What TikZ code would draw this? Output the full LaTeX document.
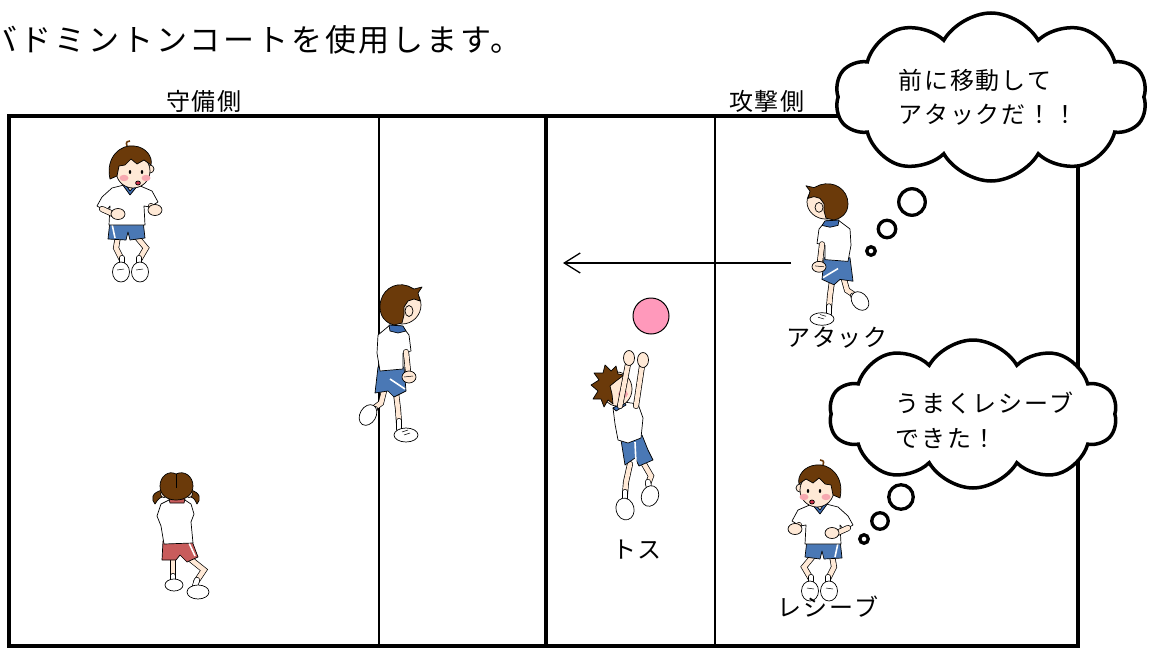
\documentclass[tikz,border=0pt]{standalone}
\usepackage{fontspec}
\setmainfont{Noto Sans CJK JP}
\usetikzlibrary{arrows.meta,shapes.symbols,shapes.geometric}

\definecolor{hair}{HTML}{6B3A0A}
\definecolor{skin}{HTML}{FFE9D6}
\definecolor{cheek}{HTML}{F7A8B0}
\definecolor{shorts}{HTML}{4A78B5}
\definecolor{collar}{HTML}{3D6CB0}
\definecolor{redshorts}{HTML}{C85C5C}
\definecolor{ballpink}{HTML}{FF99BB}
\definecolor{mouth}{HTML}{D0304A}

\tikzset{
  ol/.style={draw=black, line width=0.7pt, line join=round},
  limb/.style={double=skin, double distance=4.6pt, line width=0.7pt, line cap=round},
  sockl/.style={double=white, double distance=4.6pt, line width=0.7pt, line cap=round},
  courtline/.style={line width=3.6pt},
  thinline/.style={line width=1.2pt},
  thought/.style={cloud, cloud puffs=10, cloud puff arc=120, cloud ignores aspect,
    draw, line width=3.5pt, fill=white, inner sep=0pt},
  bubble/.style={circle, draw, line width=3.3pt, fill=white, inner sep=0pt},
  lbl/.style={font=\fontsize{24}{28}\selectfont\addfontfeatures{LetterSpace=8}, inner sep=0pt},
  % boy seen from the front, turned slightly to the right
  boyfront/.pic={
    \draw[limb] (-12,70) -- (-14,82) -- (-8,94);
    \draw[limb] (6,70) -- (16,82) -- (9,94);
    \draw[sockl] (-8,92) -- (-8,99);
    \draw[sockl] (9,92) -- (9,99);
    \filldraw[fill=white, ol] (-9,106) ellipse (8.5 and 10);
    \filldraw[fill=white, ol] (10,106) ellipse (8.5 and 10);
    \draw[line width=0.5pt] (-13,104) -- (-6,103) (6,104) -- (13,103);
    \filldraw[fill=shorts, ol] (-20,55) -- (13,55) -- (15,72) -- (0,74) -- (-2,66) -- (-4,74) -- (-22,73) -- cycle;
    \draw[white, line width=1.6pt] (-18,58) -- (-15,72);
    \filldraw[fill=white, ol] (-6,19) -- (-18,22) -- (-28,31) -- (-33,40) -- (-24,45) -- (-20,40) -- (-21,59) -- (15,59) -- (14,40) -- (20,41) -- (28,36) -- (22,25) -- (8,19) -- cycle;
    \filldraw[fill=skin, ol] (-5,14) -- (6,14) -- (5,21) -- (0,27) -- (-5,21) -- cycle;
    \filldraw[fill=collar, ol] (-8,18) -- (0,29) -- (9,18) -- (5,19) -- (0,25) -- (-4,19) -- cycle;
    \draw[limb] (-28,43) -- (-17,48);
    \filldraw[fill=skin, ol] (-12,48) ellipse (7 and 5.5);
    \draw[limb] (21,40) -- (23,42);
    \filldraw[fill=skin, ol] (25,44) ellipse (7 and 5.5);
    \filldraw[fill=skin, ol] (20,3) circle (4);
    \filldraw[fill=skin, ol] (3,5) circle (17);
    \filldraw[fill=hair, ol] (-20,13) .. controls (-25,-10) and (-8,-22) .. (4,-20)
      .. controls (16,-19) and (23,-9) .. (21,-1) -- (14,-6) -- (7,-2) -- (1,-7)
      -- (-5,-1) -- (-11,0) -- (-13,10) -- cycle;
    \draw[hair, line width=1.6pt] (-3,-20) .. controls (-4,-24) .. (0,-25);
    \fill (0,6) ellipse (1.2 and 2);
    \fill (12,6) ellipse (1.2 and 2);
    \fill[cheek] (-6,12) ellipse (4.5 and 3.2);
    \fill[cheek] (16,12) ellipse (4.5 and 3.2);
    \filldraw[fill=mouth, ol] (8,17) ellipse (2.4 and 2);
  },
  % boy seen from behind, one leg kicked back
  boyback/.pic={
    \draw[limb] (-16,86) -- (-19,98) -- (-27,104);
    \draw[sockl] (-25,104) -- (-30,106);
    \filldraw[fill=white, ol, rotate around={-30:(-32,110)}] (-32,110) ellipse (8 and 11);
    \draw[limb] (-4,88) -- (-2,104) -- (-1,118);
    \draw[sockl] (-1,116) -- (-1,124);
    \filldraw[fill=white, ol] (6,130) ellipse (12 and 7);
    \draw[line width=0.5pt] (2,127) -- (8,125) (4,130) -- (10,128);
    \filldraw[fill=shorts, ol] (-22,62) -- (4,62) -- (6,86) -- (-6,92) -- (-12,86) -- (-25,88) -- cycle;
    \draw[white, line width=1.6pt] (-10,74) -- (5,84);
    \filldraw[fill=white, ol] (-10,20) -- (2,21) -- (9,30) -- (11,46) -- (3,48) -- (3,64) -- (-20,66) -- (-23,48) -- (-22,30) -- cycle;
    \filldraw[fill=collar, ol] (-11,20) -- (3,21) -- (6,26) -- (-2,28) -- (-10,26) -- cycle;
    \draw[limb] (6,47) -- (8,66);
    \filldraw[fill=skin, ol] (9,72) ellipse (7 and 6);
    \draw[line width=0.5pt] (4,72) -- (13,71);
    \filldraw[fill=skin, ol] (2,0) circle (19);
    \filldraw[fill=hair, ol] (8,-19) .. controls (-6,-24) and (-20,-14) .. (-20,2)
      .. controls (-20,12) and (-14,18) .. (-6,20) -- (2,18) -- (4,10) -- (4,2)
      -- (8,-4) -- (14,-6) -- (20,-4) -- (18,-12) -- (22,-18) -- (14,-16) -- cycle;
    \filldraw[fill=skin, ol] (9,6) ellipse (4 and 5.5);
  },
  % girl seen from behind
  girlback/.pic={
    \draw[limb] (-4,72) -- (-4,92);
    \draw[sockl] (-4,90) -- (-4,97);
    \filldraw[fill=white, ol] (-3,99) ellipse (9 and 6);
    \draw[limb] (12,72) -- (27,84) -- (19,96);
    \draw[sockl] (20,94) -- (18,100);
    \filldraw[fill=white, ol] (21,106) ellipse (11 and 7);
    \filldraw[fill=redshorts, ol] (-14,55) -- (15,55) -- (21,71) -- (10,76) -- (3,69) -- (-1,74) -- (-15,74) -- cycle;
    \draw[white, line width=1.6pt] (12,57) -- (18,70);
    \filldraw[fill=white, ol] (-8,14) -- (8,14) -- (14,18) -- (17,28) -- (14,36) -- (16,57) -- (-13,58) -- (-16,40) -- (-20,30) -- (-16,18) -- cycle;
    \filldraw[fill=redshorts, ol] (-8,13) -- (8,13) -- (7,17) -- (-7,17) -- cycle;
    \filldraw[fill=hair, ol] (-14,4) .. controls (-26,6) and (-26,14) .. (-22,18) .. controls (-18,12) .. (-12,10) -- cycle;
    \filldraw[fill=hair, ol] (13,4) .. controls (24,6) and (24,14) .. (20,18) .. controls (17,12) .. (11,10) -- cycle;
    \filldraw[fill=skin, ol] (-13,8) circle (3.5);
    \filldraw[fill=skin, ol] (12,8) circle (3.5);
    \filldraw[fill=hair, ol] (-1,-12) .. controls (-8,-16) and (-17,-10) .. (-17,0)
      .. controls (-17,9) and (-10,14) .. (-1,14) .. controls (8,14) and (16,9) .. (16,0)
      .. controls (16,-10) and (7,-16) .. (-1,-12) -- cycle;
    \draw[line width=0.6pt] (-1,-12) -- (-1,2);
  },
  % boy jumping with both hands raised
  tossboy/.pic={
    \draw[limb] (18,76) -- (14,94) -- (13,106);
    \draw[sockl] (13,104) -- (13,111);
    \filldraw[fill=white, ol, rotate around={15:(13,121)}] (13,121) ellipse (9 and 11);
    \draw[limb] (32,76) -- (39,88) -- (36,96);
    \draw[sockl] (36,94) -- (37,100);
    \filldraw[fill=white, ol, rotate around={-20:(38,108)}] (38,108) ellipse (8.5 and 10.5);
    \filldraw[fill=shorts, ol] (9,52) -- (30,47) -- (36,62) -- (41,72) -- (27,78) -- (23,70) -- (13,77) -- cycle;
    \draw[white, line width=1.6pt] (23,54) -- (24,76);
    \filldraw[fill=white, ol] (1,20) -- (12,14) -- (26,16) -- (31,30) -- (29,50) -- (16,55) -- (6,52) -- (3,36) -- cycle;
    \filldraw[fill=collar, ol] (1,20) -- (12,14) -- (14,17) -- (4,23) -- cycle;
    \filldraw[fill=skin, ol] (5,1) ellipse (15 and 17);
    \filldraw[fill=hair, ol] (6,-14) -- (4,-22) -- (-1,-17) -- (-7,-23) -- (-9,-15) -- (-18,-15)
      -- (-13,-8) -- (-21,-3) -- (-14,3) -- (-19,11) -- (-11,11) -- (-8,19) -- (-4,12)
      -- (1,16) -- (0,6) -- (-2,-2) -- (4,-7) -- (12,-13) -- cycle;
    \fill[cheek] (11,6) ellipse (5 and 4);
    \draw[line width=0.6pt] (9,-3) -- (13,-4);
    \draw[limb] (8,18) -- (16,-24);
    \draw[limb] (24,18) -- (30,-22);
    \filldraw[fill=skin, ol] (17,-30) ellipse (5.5 and 7.5);
    \filldraw[fill=skin, ol] (31,-28) ellipse (5.5 and 7.5);
  },
}

\begin{document}
\begin{tikzpicture}[x=1pt, y=-1pt]
  \useasboundingbox (0,0) rectangle (1155,650);

  % heading
  \node[anchor=west, inner sep=0pt,
        font=\fontsize{31}{34}\selectfont\addfontfeatures{LetterSpace=9}] (title)
        at (-14,40) {バドミントンコートを使用します。};

  % court
  \draw[thinline] (379,116) -- (379,646);
  \draw[thinline] (715,116) -- (715,646);
  \draw[courtline] (546,116) -- (546,646);
  \draw[courtline] (9,116) rectangle (1078,646);

  \node[lbl] (defside) at (204,101) {守備側};
  \node[lbl] (attside) at (767,101) {攻撃側};

  % attack direction
  \coordinate (arrowfrom) at (791,263);
  \coordinate (arrowto) at (563,263);
  \draw[line width=1.3pt, -{Straight Barb[length=16pt, width=20pt, line width=1.3pt]}] (arrowfrom) -- (arrowto);

  % ball
  \node[circle, draw, line width=1pt, fill=ballpink, minimum size=36pt, inner sep=0pt] (ball) at (651,316) {};

  % players
  \pic at (130,166) {boyfront};
  \pic at (400,305) {boyback};
  \pic at (177,486) {girlback};
  \pic at (612,388) {tossboy};
  \pic[xscale=-1, yscale=0.9] at (828,202) {boyback};
  \pic[xscale=-1] at (820,485) {boyfront};

  \node[lbl] (attack) at (837,338) {アタック};
  \node[lbl] (toss) at (637,550) {トス};
  \node[lbl] (receive) at (828,607) {レシーブ};

  % thought of the attacker
  \node[thought, minimum width=312pt, minimum height=168pt] (cloudA) at (991,97) {};
  \node[bubble, minimum size=26.5pt] (bA1) at (912,202) {};
  \node[bubble, minimum size=17.5pt] (bA2) at (887,229) {};
  \node[bubble, minimum size=8.5pt] (bA3) at (871,251) {};
  \node[lbl, anchor=west] (tA1) at (898,80) {前に移動して};
  \node[lbl, anchor=west] (tA2) at (898,115) {アタックだ！！};

  % thought of the receiver
  \node[thought, minimum width=288pt, minimum height=148pt] (cloudB) at (973,414) {};
  \node[bubble, minimum size=24.5pt] (bB1) at (901,497) {};
  \node[bubble, minimum size=16.5pt] (bB2) at (880,521) {};
  \node[bubble, minimum size=8.5pt] (bB3) at (864,539) {};
  \node[lbl, anchor=west] (tB1) at (895,403) {うまくレシーブ};
  \node[lbl, anchor=west] (tB2) at (895,438) {できた！};
\end{tikzpicture}
\end{document}
